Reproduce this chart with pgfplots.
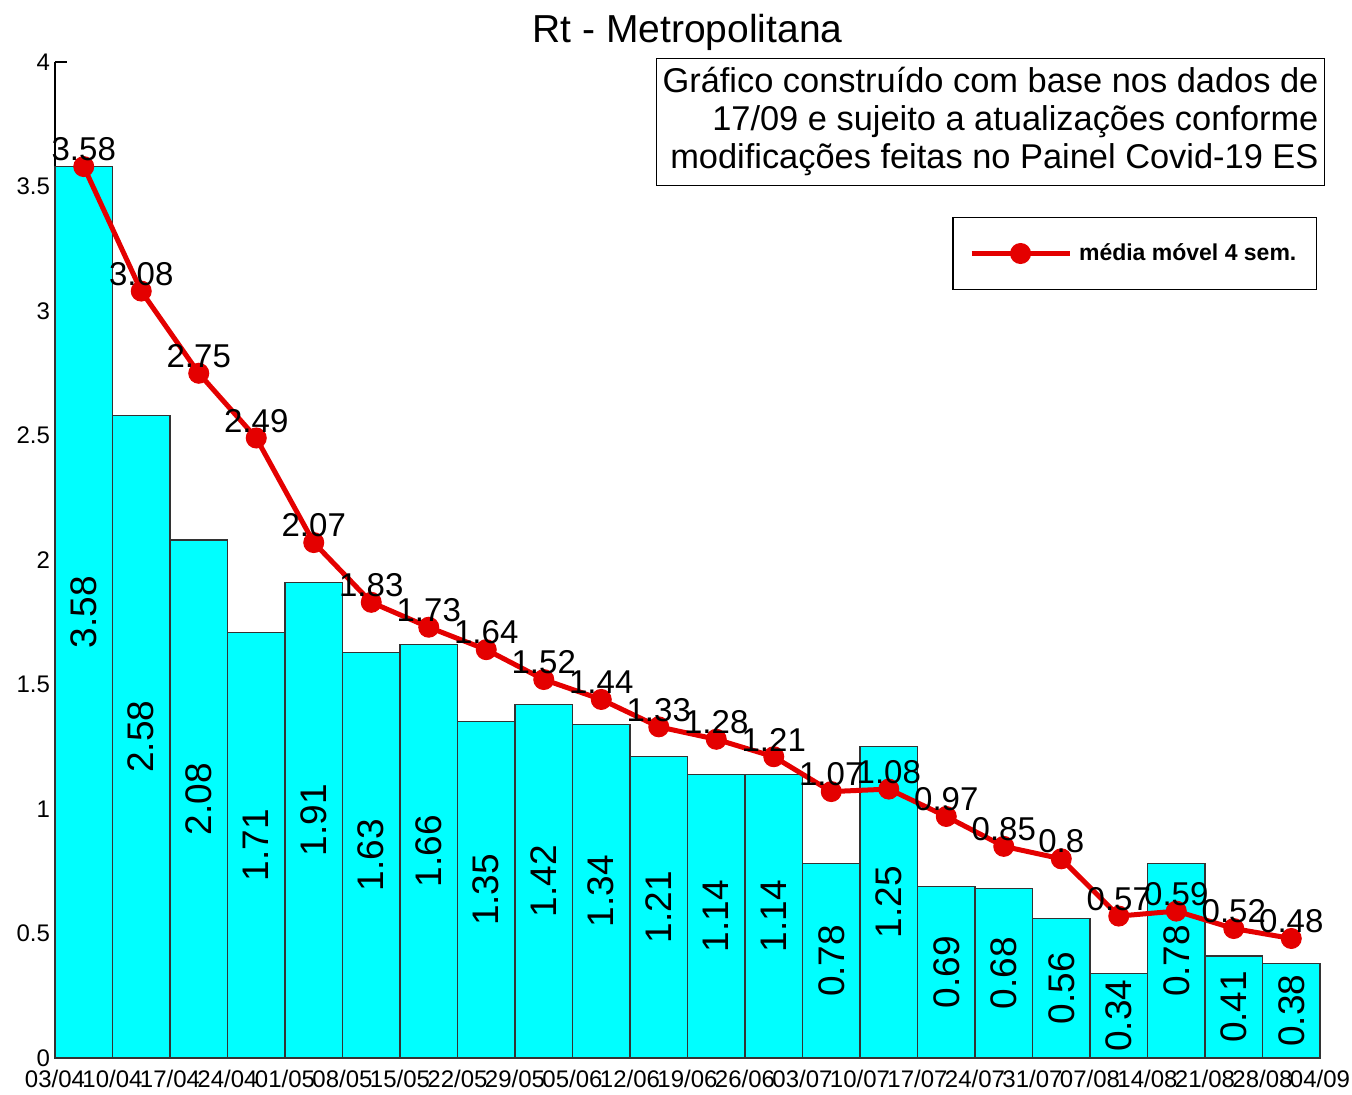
\documentclass[border=0pt]{standalone}
\usepackage{pgfplots}
\pgfplotsset{compat=1.18}
\usepackage{pgfplotstable}
\usepackage{fontspec}
\setmainfont{Liberation Sans}
\definecolor{lineRed}{RGB}{228,0,0}
\definecolor{barCyan}{RGB}{0,255,255}
\pgfplotstableread{
x bar line
0.5 3.58 3.58
1.5 2.58 3.08
2.5 2.08 2.75
3.5 1.71 2.49
4.5 1.91 2.07
5.5 1.63 1.83
6.5 1.66 1.73
7.5 1.35 1.64
8.5 1.42 1.52
9.5 1.34 1.44
10.5 1.21 1.33
11.5 1.14 1.28
12.5 1.14 1.21
13.5 0.78 1.07
14.5 1.25 1.08
15.5 0.69 0.97
16.5 0.68 0.85
17.5 0.56 0.8
18.5 0.34 0.57
19.5 0.78 0.59
20.5 0.41 0.52
21.5 0.38 0.48
}\data
\begin{document}
\begin{tikzpicture}
\path[use as bounding box] (-27.5pt,-18pt) rectangle (648.5pt,529pt);
\begin{axis}[
 at={(0pt,0pt)}, anchor=south west,
 scale only axis, width=632.5pt, height=498pt,
 xmin=0, xmax=22, ymin=0, ymax=4,
 axis lines*=left,
 axis line style={line width=0.6pt, black},
 clip=false,
 xtick={0,...,22},
 xticklabels={03/04,10/04,17/04,24/04,01/05,08/05,15/05,22/05,29/05,05/06,12/06,19/06,26/06,03/07,10/07,17/07,24/07,31/07,07/08,14/08,21/08,28/08,04/09},
 x tick label style={font=\fontsize{12}{12}\selectfont, inner xsep=0pt, yshift=-2.5pt},
 xtick style={draw=none},
 ytick={0,0.5,1,1.5,2,2.5,3,3.5,4},
 y tick label style={font=\fontsize{12}{12}\selectfont, xshift=1pt},
 tick align=inside,
 major tick length=6pt,
 ytick style={line width=0.6pt, black},
 /pgf/number format/assume math mode=true,
 title={Rt - Metropolitana},
 title style={font=\fontsize{19.5}{19.5}\selectfont, at={(0.5,1)}, anchor=base, yshift=3.5pt},
 legend style={at={(0.9976,0.8444)}, anchor=north east, draw=black, line width=0.6pt,
   inner xsep=8pt, inner ysep=11pt, font=\bfseries\fontsize{11.5}{11.5}\selectfont, cells={anchor=west}},
 legend image code/.code={
   \draw[#1,mark=none] (0pt,0pt) -- (49pt,0pt);
   \draw[#1] plot coordinates {(24.5pt,0pt)};
 },
]
\addplot[ybar, bar width=1, fill=barCyan, draw=black!80, line width=0.6pt, forget plot]
  table[x=x, y=bar] {\data};
\addplot[draw=none, mark=none, forget plot,
  nodes near coords, point meta=explicit,
  every node near coord/.append style={anchor=center, rotate=90, font=\fontsize{18.5}{18.5}\selectfont, black}]
  table[x=x, y expr=\thisrow{bar}/2, meta=bar] {\data};
\addplot[lineRed, line width=2.5pt, mark=*, mark size=5pt, mark options={solid, fill=lineRed, draw=lineRed, line width=0.5pt},
  nodes near coords, point meta=explicit,
  every node near coord/.append style={anchor=south, inner sep=2.5pt, font=\fontsize{16.5}{16.5}\selectfont, black}]
  table[x=x, y=line, meta=line] {\data};
\addlegendentry{\hspace{1.5pt}média móvel 4 sem.\hspace{8pt}}
\node[draw=black, line width=0.6pt, fill=white, align=right, anchor=north east,
  inner xsep=3pt, inner ysep=4.5pt, font=\fontsize{17.2}{19}\selectfont]
  at (rel axis cs:1.004,1.004)
  {Gráfico construído com base nos dados de\\17/09 e sujeito a atualizações conforme\\modificações feitas no Painel Covid-19 ES};
\end{axis}
\end{tikzpicture}
\end{document}
